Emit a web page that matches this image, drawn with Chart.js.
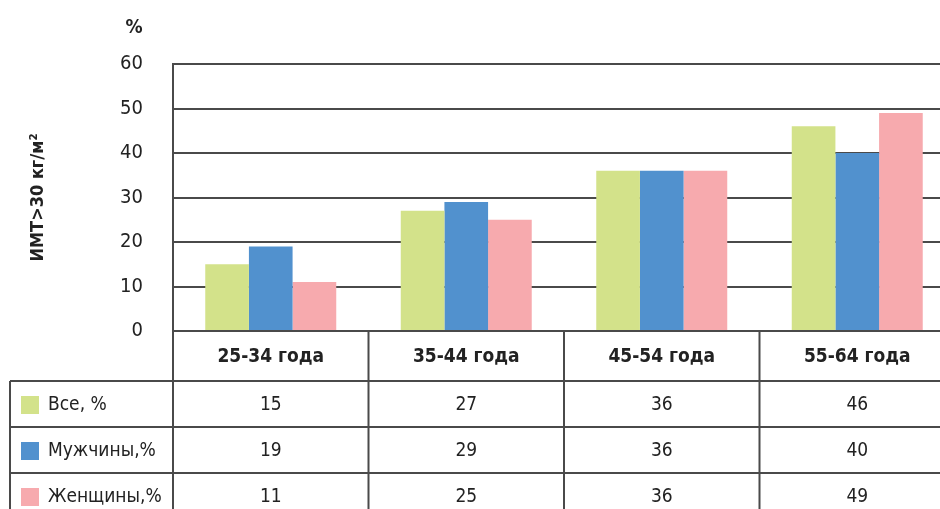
<!DOCTYPE html>
<html>
<head>
<meta charset="utf-8">
<script src="https://cdn.jsdelivr.net/npm/chart.js@4.4.1/dist/chart.umd.min.js"></script>
<style>
  html, body { margin: 0; padding: 0; background: #fff; overflow: hidden; }
  #wrap { width: 960px; height: 509px; }
</style>
</head>
<body>
<div id="wrap"><canvas id="chart" width="960" height="509"></canvas></div>
<script>
const categories = ["25-34 года", "35-44 года", "45-54 года", "55-64 года"];
const seriesNames = ["Все, %", "Мужчины,%", "Женщины,%"];
const allValues = [15, 27, 36, 46];
const menValues = [19, 29, 36, 40];
const womenValues = [11, 25, 36, 49];
const seriesColors = ["#d3e28a", "#5191ce", "#f7aaae"];
const yTicks = [0, 10, 20, 30, 40, 50, 60];

const FONT = "'Liberation Sans Narrow', 'DejaVu Sans Condensed', 'Arial Narrow', sans-serif";
const LINE = "#4a4a4a";
const TEXT = "#222";

const seriesValues = [allValues, menValues, womenValues];

// table under the plot, columns follow the x scale
const tablePlugin = {
    id: "dataTable",
    afterDraw(chart) {
        const ctx = chart.ctx;
        const area = chart.chartArea;
        const xs = chart.scales.x;
        const colW = (area.right - area.left) / categories.length;
        const headerBottom = area.bottom + 50;
        const rowH = 46;
        const tableLeft = 10;
        const bottom = chart.height;

        ctx.save();
        ctx.strokeStyle = LINE;
        ctx.lineWidth = 2;

        // vertical lines
        ctx.beginPath();
        ctx.moveTo(area.left, area.top);
        ctx.lineTo(area.left, bottom);
        for (let i = 1; i <= categories.length; i++) {
            const cx = area.left + colW * i;
            ctx.moveTo(cx, area.bottom);
            ctx.lineTo(cx, bottom);
        }
        ctx.moveTo(tableLeft, headerBottom);
        ctx.lineTo(tableLeft, bottom);
        // horizontal lines
        for (let r = 0; r < seriesNames.length; r++) {
            const y = headerBottom + rowH * r;
            ctx.moveTo(tableLeft, y);
            ctx.lineTo(chart.width, y);
        }
        ctx.stroke();

        ctx.fillStyle = TEXT;
        ctx.textAlign = "center";
        ctx.textBaseline = "middle";

        // header
        ctx.font = "bold 19px " + FONT;
        categories.forEach((c, i) => {
            ctx.fillText(c, xs.getPixelForValue(i), area.bottom + 26);
        });

        // rows
        ctx.font = "19px " + FONT;
        seriesNames.forEach((name, r) => {
            const cy = headerBottom + rowH * r + rowH / 2 + 1;
            ctx.fillStyle = seriesColors[r];
            ctx.fillRect(21, cy - 9, 18, 18);
            ctx.fillStyle = TEXT;
            ctx.textAlign = "left";
            ctx.fillText(name, 48, cy);
            ctx.textAlign = "center";
            seriesValues[r].forEach((v, i) => {
                ctx.fillText(String(v), xs.getPixelForValue(i), cy);
            });
        });

        // unit over the axis
        ctx.font = "bold 19px " + FONT;
        ctx.textAlign = "center";
        ctx.fillText("%", 134, 28);
        ctx.restore();
    }
};

new Chart(document.getElementById("chart"), {
    type: "bar",
    data: {
        labels: categories,
        datasets: seriesNames.map((name, i) => ({
            label: name,
            data: seriesValues[i],
            backgroundColor: seriesColors[i],
            borderWidth: 0,
            categoryPercentage: 0.67,
            barPercentage: 1.0,
        })),
    },
    options: {
        responsive: false,
        animation: false,
        devicePixelRatio: 1,
        layout: {
            padding: { top: 64, right: 5, bottom: 178, left: 0 },
        },
        plugins: {
            legend: { display: false },
            tooltip: { enabled: false },
        },
        scales: {
            x: {
                display: false,
            },
            y: {
                min: 0,
                max: 60,
                afterFit: (scale) => { scale.width = 173; },
                afterBuildTicks: (scale) => {
                    scale.ticks = yTicks.map((v) => ({ value: v }));
                },
                ticks: {
                    color: TEXT,
                    padding: 30,
                    font: { family: FONT, size: 20 },
                },
                grid: {
                    color: LINE,
                    lineWidth: 2,
                    drawTicks: false,
                },
                border: { display: true, color: LINE, width: 2 },
                title: {
                    display: true,
                    text: "ИМТ>30 кг/м²",
                    color: TEXT,
                    font: { family: FONT, size: 18, weight: "bold" },
                    padding: { top: 28, bottom: 0 },
                },
            },
        },
    },
    plugins: [tablePlugin],
});
</script>
</body>
</html>
